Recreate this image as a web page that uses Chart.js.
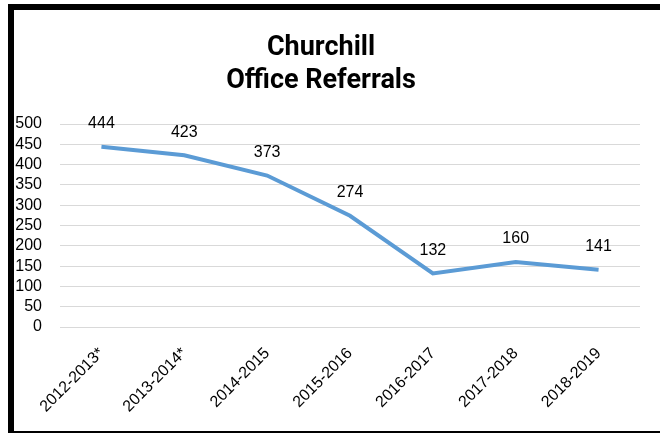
<!DOCTYPE html>
<html>
<head>
<meta charset="utf-8">
<script src="https://cdn.jsdelivr.net/npm/chart.js@4"></script>
<style>
  body { margin: 0; background: #fff; }
  #frame {
    position: absolute; left: 8px; top: 4px; width: 700px; height: 429px;
    box-sizing: border-box;
    border-top: 6px solid #000; border-left: 6px solid #000; border-bottom: 2px solid #000;
  }
  #myChart { position: absolute; left: 0; top: 0; }
</style>
</head>
<body>
<div id="frame"></div>
<canvas id="myChart" width="660" height="434"></canvas>
<script>
// Churchill office referrals
const years = ["2012-2013*", "2013-2014*", "2014-2015", "2015-2016", "2016-2017", "2017-2018", "2018-2019"];
const referrals = [444, 423, 373, 274, 132, 160, 141];
const titleLines = ["Churchill", "Office Referrals"];

const ctx = document.getElementById("myChart");

const labelsPlugin = {
  id: "pointLabels",
  afterDatasetsDraw(chart) {
    const c = chart.ctx;
    const meta = chart.getDatasetMeta(0);
    c.save();
    c.font = "16px 'Liberation Sans'";
    c.fillStyle = "#000";
    c.textAlign = "center";
    c.textBaseline = "middle";
    meta.data.forEach((pt, i) => {
      c.fillText(referrals[i], pt.x, pt.y - 23);
    });
    c.restore();
  },
  afterDraw(chart) {
    const c = chart.ctx;
    c.save();
    c.font = "bold 27px Roboto";
    c.fillStyle = "#000";
    c.textAlign = "center";
    c.textBaseline = "alphabetic";
    c.fillText(titleLines[0], 321, 55);
    c.fillText(titleLines[1], 321, 88);
    c.restore();
  },
};

new Chart(ctx, {
  type: "line",
  data: {
    labels: years,
    datasets: [
      {
        data: referrals,
        borderColor: "#5B9BD5",
        borderWidth: 4,
        pointRadius: 0,
        tension: 0,
      },
    ],
  },
  options: {
    responsive: false,
    animation: false,
    layout: { padding: { top: 124, left: 15, right: 20, bottom: 20 } },
    plugins: {
      legend: { display: false },
      tooltip: { enabled: false },
    },
    scales: {
      x: {
        offset: true,
        grid: { display: false, drawTicks: false },
        border: { display: false },
        afterFit(scale) {
          scale.paddingLeft = 0;
          scale.paddingRight = 0;
          scale.height = 87;
        },
        ticks: {
          color: "#000",
          font: { family: "'Liberation Sans'", size: 16 },
          maxRotation: 45,
          minRotation: 45,
          autoSkip: false,
          padding: 17,
        },
      },
      y: {
        min: 0,
        max: 500,
        grid: { color: "#d9d9d9", lineWidth: 1, drawTicks: false },
        border: { display: false },
        afterFit(scale) {
          scale.width = 45;
        },
        ticks: {
          stepSize: 50,
          autoSkip: false,
          color: "#000",
          font: { family: "'Liberation Sans'", size: 16 },
          padding: 18,
        },
      },
    },
  },
  plugins: [labelsPlugin],
});
</script>
</body>
</html>
